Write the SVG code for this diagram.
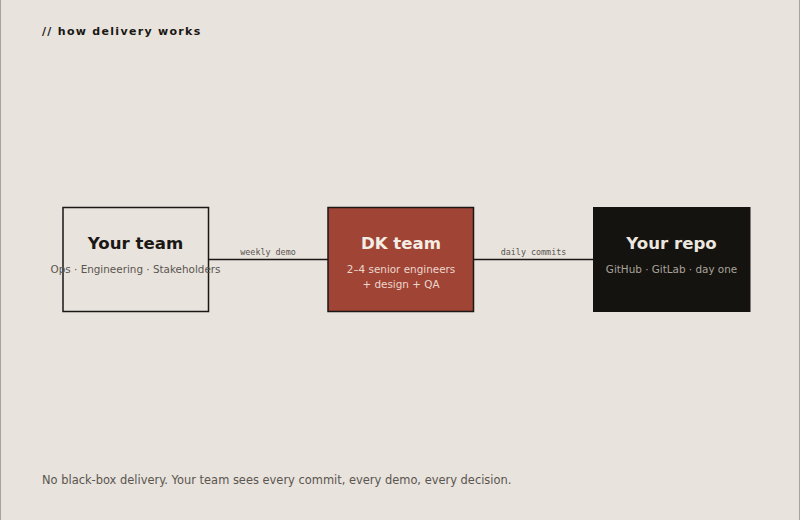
<svg xmlns="http://www.w3.org/2000/svg" width="800" height="520" viewBox="0 0 800 520">
<style>
.t{font-family:"DejaVu Sans",sans-serif;font-weight:bold;font-size:16.6px;text-anchor:middle}
.s{font-family:"DejaVu Sans",sans-serif;font-size:10.4px;text-anchor:middle}
.m{font-family:"DejaVu Sans Mono",monospace;font-size:8.4px;fill:#5a554f;text-anchor:middle}
.c{stroke:#1a1714;stroke-width:1.5;fill:none}
</style>
<rect x="0" y="0" width="800" height="520" fill="#e8e3dd"/>
<rect x="0.5" y="-1" width="799" height="522" fill="none" stroke="#a8a39d" stroke-width="1"/>
<text x="42" y="35" font-family="DejaVu Sans,sans-serif" font-weight="bold" font-size="11" letter-spacing="1.3" fill="#1a1714">// how delivery works</text>
<g id="connectors">
<line class="c" x1="208" y1="259.5" x2="328" y2="259.5"/>
<line class="c" x1="474" y1="259.5" x2="593" y2="259.5"/>
<text class="m" x="268" y="255">weekly demo</text>
<text class="m" x="533.5" y="255">daily commits</text>
</g>
<g id="your-team">
<rect x="63" y="207.5" width="145.5" height="104" fill="#e8e3dd" stroke="#1a1714" stroke-width="1.5"/>
<text class="t" x="135.5" y="249" fill="#1a1714">Your team</text>
<text class="s" x="135.5" y="273" fill="#5a554f">Ops · Engineering · Stakeholders</text>
</g>
<g id="dk-team">
<rect x="328" y="207.5" width="145.5" height="104" fill="#a04535" stroke="#1a1714" stroke-width="1.5"/>
<text class="t" x="401" y="249" fill="#f4ede6">DK team</text>
<text class="s" x="401" y="273" fill="#ecd6ce">2–4 senior engineers</text>
<text class="s" x="401" y="288" fill="#ecd6ce">+ design + QA</text>
</g>
<g id="your-repo">
<rect x="593" y="207" width="157.5" height="105" fill="#15130f"/>
<text class="t" x="671.5" y="249" fill="#ece6df">Your repo</text>
<text class="s" x="671.5" y="273" fill="#a9a39b">GitHub · GitLab · day one</text>
</g>
<text x="42" y="484" font-family="DejaVu Sans,sans-serif" font-size="11.45" fill="#5a554f">No black-box delivery. Your team sees every commit, every demo, every decision.</text>
</svg>
